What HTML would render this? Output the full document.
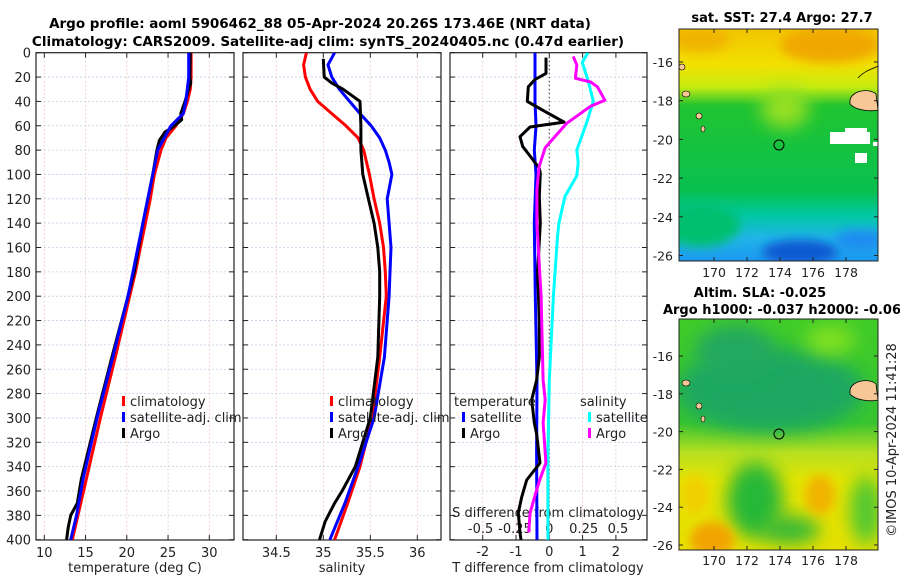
<!DOCTYPE html>
<html><head><meta charset="utf-8"><style>
html,body{margin:0;padding:0;background:#fff;}
svg{display:block;font-family:"DejaVu Sans","Liberation Sans",sans-serif;}
</style></head><body>
<svg id="chart" width="900" height="580" viewBox="0 0 900 580">
<defs>
<filter id="bl" x="-50%" y="-50%" width="200%" height="200%"><feGaussianBlur stdDeviation="9"/></filter>
<filter id="bl2" x="-50%" y="-50%" width="200%" height="200%"><feGaussianBlur stdDeviation="5"/></filter>
<clipPath id="c1"><rect x="679" y="29" width="199" height="232"/></clipPath>
<clipPath id="c2"><rect x="679" y="319" width="199" height="231"/></clipPath>
<clipPath id="cp1"><rect x="36" y="52.7" width="198" height="487.3"/></clipPath>
<clipPath id="cp2"><rect x="243" y="52.7" width="198" height="487.3"/></clipPath>
<clipPath id="cp3"><rect x="450" y="52.7" width="197" height="487.3"/></clipPath>
<linearGradient id="g1" x1="0" y1="0" x2="0" y2="1">
<stop offset="0" stop-color="#f2c400"/><stop offset="0.15" stop-color="#f2e000"/><stop offset="0.25" stop-color="#c8ec10"/>
<stop offset="0.33" stop-color="#20c430"/><stop offset="0.7" stop-color="#08c050"/><stop offset="0.8" stop-color="#00c8a0"/>
<stop offset="0.9" stop-color="#20b4e8"/><stop offset="1" stop-color="#1c98f0"/></linearGradient>
<linearGradient id="g2" x1="0" y1="0" x2="0" y2="1">
<stop offset="0" stop-color="#40cc28"/><stop offset="0.45" stop-color="#38c430"/><stop offset="0.58" stop-color="#b8e020"/>
<stop offset="0.7" stop-color="#e4e400"/><stop offset="1" stop-color="#e8e000"/></linearGradient>
</defs>

<g id="titles" font-weight="bold" font-size="13.5" text-anchor="middle">
<text x="320" y="28">Argo profile: aoml 5906462_88 05-Apr-2024 20.26S 173.46E (NRT data)</text>
<text x="328" y="46">Climatology: CARS2009. Satellite-adj clim: synTS_20240405.nc (0.47d earlier)</text>
</g>

<g id="panels"></g>

<!-- maps -->
<g>
<g clip-path="url(#c1)">
<rect x="679" y="29" width="199" height="232" fill="url(#g1)"/>
<ellipse cx="830" cy="45" rx="50" ry="18" fill="#f0a800" filter="url(#bl2)"/>
<ellipse cx="700" cy="40" rx="30" ry="12" fill="#f0b400" filter="url(#bl2)"/>
<ellipse cx="785" cy="108" rx="24" ry="20" fill="#98e020" filter="url(#bl)"/>
<ellipse cx="700" cy="225" rx="40" ry="22" fill="#00c070" filter="url(#bl2)"/>
<ellipse cx="800" cy="252" rx="38" ry="12" fill="#1058d0" filter="url(#bl2)"/>
<ellipse cx="860" cy="240" rx="25" ry="10" fill="#1a8cf0" filter="url(#bl2)"/>
<rect x="830" y="132" width="40" height="12" fill="#fff"/><rect x="845" y="128" width="22" height="8" fill="#fff"/>
<rect x="855" y="153" width="12" height="10" fill="#fff"/><rect x="873" y="142" width="5" height="4" fill="#fff"/>
<path d="M850,100 C852,90 870,88 876,94 L878,110 C870,112 855,110 850,104 Z" fill="#f7c896" stroke="#000" stroke-width="0.8"/>
<path d="M858,78 C865,70 875,68 878,66" fill="none" stroke="#000" stroke-width="0.8"/>
<ellipse cx="686" cy="94" rx="4" ry="3" fill="#f7c896" stroke="#000" stroke-width="0.6"/>
<ellipse cx="699" cy="116" rx="3" ry="3" fill="#f7c896" stroke="#000" stroke-width="0.6"/>
<ellipse cx="703" cy="129" rx="2" ry="3" fill="#f7c896" stroke="#000" stroke-width="0.6"/>
<ellipse cx="682" cy="67" rx="3" ry="3" fill="#f7c896" stroke="#000" stroke-width="0.6"/>
<circle cx="779" cy="145" r="5" fill="none" stroke="#000" stroke-width="1"/>
</g>
<rect x="679" y="29" width="199" height="232" fill="none" stroke="#222" stroke-width="1"/>
</g>
<g>
<g clip-path="url(#c2)">
<rect x="679" y="319" width="199" height="231" fill="url(#g2)"/>
<ellipse cx="770" cy="390" rx="95" ry="42" fill="#1aa860" filter="url(#bl)"/>
<ellipse cx="735" cy="350" rx="40" ry="25" fill="#20a860" filter="url(#bl)"/>
<ellipse cx="830" cy="340" rx="25" ry="15" fill="#80e020" filter="url(#bl)"/>
<ellipse cx="755" cy="500" rx="28" ry="38" fill="#28b838" filter="url(#bl)"/>
<ellipse cx="790" cy="530" rx="30" ry="14" fill="#30b838" filter="url(#bl)"/>
<ellipse cx="866" cy="510" rx="16" ry="35" fill="#50c830" filter="url(#bl)"/>
<ellipse cx="712" cy="540" rx="22" ry="18" fill="#f2a400" filter="url(#bl2)"/>
<ellipse cx="820" cy="495" rx="15" ry="20" fill="#f0b400" filter="url(#bl2)"/>
<ellipse cx="695" cy="495" rx="14" ry="20" fill="#f0d000" filter="url(#bl2)"/>
<path d="M850,390 C852,380 870,378 876,384 L878,400 C870,402 855,400 850,394 Z" fill="#f7c896" stroke="#000" stroke-width="0.8"/>
<ellipse cx="686" cy="383" rx="4" ry="3" fill="#f7c896" stroke="#000" stroke-width="0.6"/>
<ellipse cx="699" cy="406" rx="3" ry="3" fill="#f7c896" stroke="#000" stroke-width="0.6"/>
<ellipse cx="703" cy="419" rx="2" ry="3" fill="#f7c896" stroke="#000" stroke-width="0.6"/>
<circle cx="779" cy="434" r="5" fill="none" stroke="#000" stroke-width="1"/>
</g>
<rect x="679" y="319" width="199" height="231" fill="none" stroke="#222" stroke-width="1"/>
</g>
<g font-weight="bold" font-size="13" text-anchor="middle">
<text x="782" y="22">sat. SST: 27.4 Argo: 27.7</text>
<text x="760" y="297">Altim. SLA: -0.025</text>
<text x="782" y="314">Argo h1000: -0.037 h2000: -0.06</text>
</g>
<g id="maplabels" font-size="12.5" fill="#222"></g>
<text transform="translate(896,440) rotate(-90)" font-size="13" text-anchor="middle" fill="#222">©IMOS 10-Apr-2024 11:41:28</text>
</svg>
<script>
// depth levels and profile values
const depthTicks = [0,20,40,60,80,100,120,140,160,180,200,220,240,260,280,300,320,340,360,380,400];
const tempTicks = [10,15,20,25,30];
const salTicks = [34.5,35,35.5,36];
const tdiffTicks = [-2,-1,0,1,2];
const sdiffTicks = [-0.5,-0.25,0,0.25,0.5];
const sdiffLabels = ['-0.5','-0.25','0','0.25','0.5'];

const tClimDepth = [0,20,30,40,50,60,70,80,100,120,140,160,180,200,250,300,350,400];
const tClim = [27.8,27.8,27.7,27.35,26.85,25.95,24.75,24.15,23.35,22.85,22.25,21.65,21.05,20.35,18.6,16.8,15.1,13.4];
const tSatDepth = [0,20,40,50,60,70,80,100,120,140,160,180,200,250,300,350,380,400];
const tSat = [27.5,27.5,27.15,26.85,25.35,24.55,23.75,23.15,22.55,21.95,21.35,20.75,20.15,18.3,16.4,14.7,13.9,13.2];
const tArgoDepth = [0,20,25,30,40,50,55,58,62,65,72,80,100,140,180,200,250,300,350,370,380,390,400];
const tArgo = [27.7,27.65,27.75,27.5,27.05,26.55,26.65,26.15,25.4,24.65,23.95,23.65,23.15,21.95,20.9,20.15,18.2,16.3,14.5,14.0,13.2,12.9,12.7];

const sClimDepth = [0,10,20,30,40,50,60,70,75,80,100,120,140,160,180,200,250,300,340,370,400];
const sClim = [34.82,34.79,34.81,34.86,34.94,35.09,35.24,35.37,35.40,35.43,35.49,35.54,35.60,35.64,35.66,35.67,35.60,35.52,35.39,35.26,35.12];
const sSatDepth = [0,10,20,30,40,50,60,70,80,90,100,120,140,160,180,200,250,300,340,370,400];
const sSat = [35.12,35.05,35.09,35.17,35.28,35.39,35.51,35.60,35.66,35.70,35.73,35.68,35.70,35.72,35.71,35.70,35.65,35.54,35.37,35.23,35.07];
const sArgoDepth = [5,20,25,30,40,60,80,100,120,140,160,180,200,250,300,340,360,370,385,400];
const sArgo = [35.0,35.01,35.09,35.21,35.39,35.40,35.40,35.42,35.48,35.54,35.58,35.60,35.60,35.58,35.50,35.34,35.20,35.12,35.02,34.96];

const dtSatDepth = [0,40,60,80,100,140,200,270,330,400];
const dtSat = [-0.43,-0.43,-0.4,-0.45,-0.4,-0.45,-0.42,-0.37,-0.38,-0.37];
const dtArgoDepth = [4,17,22,28,40,46,57,61,69,77,84,95,99,118,140,180,220,250,269,285,304,313,337,351,365,378,394,400];
const dtArgo = [-0.1,-0.1,-0.43,-0.63,-0.66,-0.28,0.44,-0.58,-0.88,-0.8,-0.6,-0.3,-0.27,-0.3,-0.27,-0.35,-0.3,-0.3,-0.38,-0.53,-0.45,-0.38,-0.28,-0.68,-0.83,-0.93,-0.88,-0.85];
const dsSatDepth = [0,8,22,40,58,80,90,101,118,140,151,200,269,330,400];
const dsSat = [0.28,0.24,0.28,0.32,0.27,0.2,0.21,0.2,0.114,0.07,0.06,0.03,0.0,-0.01,-0.01];
const dsArgoDepth = [3,10,21,24,28,39,44,58,69,78,94,113,140,200,269,285,304,320,337,351,362,378,394];
const dsArgo = [0.175,0.2,0.19,0.3,0.35,0.405,0.3,0.127,0.04,-0.03,-0.075,-0.09,-0.09,-0.06,-0.045,-0.03,-0.045,-0.035,-0.025,-0.07,-0.1,-0.14,-0.15];

const latTicks = [-16,-18,-20,-22,-24,-26];
const lonTicks = [170,172,174,176,178];

const NS='http://www.w3.org/2000/svg';
const svg=document.getElementById('chart');
const panels=document.getElementById('panels');
const yD = d => 52.7 + d*1.2175;
const xT = t => 44.3 + (t-10)*8.25;
const xS = s => 276.3 + (s-34.5)*94;
const xDT = v => 549.3 + v*33.3;
const xDS = v => 549.3 + v*137.4;
function mk(tag, attrs, parent){const e=document.createElementNS(NS,tag);for(const k in attrs)e.setAttribute(k,attrs[k]);(parent||panels).appendChild(e);return e;}

function panel(x0,x1,xticks,xf,name){
  const g=mk('g',{});
  
  
  depthTicks.forEach(d=>{ if(d>0&&d<400) mk('line',{x1:x0,x2:x1,y1:yD(d),y2:yD(d),stroke:'#c4cdea','stroke-width':0.8,'stroke-dasharray':'2,2'},g);});
  xticks.forEach(v=>{const x=xf(v); mk('line',{x1:x,x2:x,y1:52.7,y2:540,stroke:'#ecc8c0','stroke-width':0.8,'stroke-dasharray':'2,2'},g);});
  mk('rect',{x:x0,y:52.7,width:x1-x0,height:487.3,fill:'none',stroke:'#222','stroke-width':1.2},g);
  depthTicks.forEach(d=>{mk('line',{x1:x0,x2:x0+5,y1:yD(d),y2:yD(d),stroke:'#222','stroke-width':1},g);mk('line',{x1:x1-5,x2:x1,y1:yD(d),y2:yD(d),stroke:'#222','stroke-width':1},g);});
  xticks.forEach(v=>{const x=xf(v);mk('line',{x1:x,x2:x,y1:52.7,y2:57.7,stroke:'#222'},g);mk('line',{x1:x,x2:x,y1:535,y2:540,stroke:'#222'},g);});
  return g;
}
function line(depths,vals,xf,color,clip,name,w){
  const pts=depths.map((d,i)=>xf(vals[i]).toFixed(1)+','+yD(d).toFixed(1)).join(' ');
  const p=mk('polyline',{points:pts,fill:'none',stroke:color,'stroke-width':w||3,'stroke-linejoin':'round','clip-path':'url(#'+clip+')'});
  
  
}
function txt(x,y,s,attrs,name){const t=mk('text',Object.assign({x:x,y:y,'font-size':13,fill:'#222'},attrs||{}));t.textContent=s;return t;}

panel(36,234,tempTicks,xT,'temperature-panel');
panel(243,441,salTicks,xS,'salinity-panel');
panel(450,647,tdiffTicks,xDT,'difference-panel');
mk('line',{x1:549.3,x2:549.3,y1:52.7,y2:540,stroke:'#555','stroke-width':1.2,'stroke-dasharray':'1.5,2.5'});

depthTicks.forEach(d=>txt(31,yD(d)+5,String(d),{'text-anchor':'end'},'depth-tick-label'));
tempTicks.forEach(v=>txt(xT(v),557,String(v),{'text-anchor':'middle'},'temperature-tick-label'));
salTicks.forEach(v=>txt(xS(v),557,String(v),{'text-anchor':'middle'},'salinity-tick-label'));
tdiffTicks.forEach(v=>txt(xDT(v),556,String(v),{'text-anchor':'middle'},'tdiff-tick-label'));
sdiffTicks.forEach((v,i)=>txt(xDS(v),533,sdiffLabels[i],{'text-anchor':'middle'},'sdiff-tick-label'));
txt(135,572,'temperature (deg C)',{'text-anchor':'middle'},'temperature-axis-title');
txt(342,572,'salinity',{'text-anchor':'middle'},'salinity-axis-title');
txt(548,572,'T difference from climatology',{'text-anchor':'middle'},'tdiff-axis-title');
txt(548,517,'S difference from climatology',{'text-anchor':'middle'},'sdiff-axis-title');

line(tClimDepth,tClim,xT,'#ff0000','cp1','temp-climatology-line');
line(tArgoDepth,tArgo,xT,'#000','cp1','temp-argo-line');
line(tSatDepth,tSat,xT,'#0000ff','cp1','temp-satellite-line');
line(sClimDepth,sClim,xS,'#ff0000','cp2','sal-climatology-line');
line(sSatDepth,sSat,xS,'#0000ff','cp2','sal-satellite-line');
line(sArgoDepth,sArgo,xS,'#000','cp2','sal-argo-line');
line(dsSatDepth,dsSat,xDS,'#00ffff','cp3','sdiff-satellite-line');
line(dtSatDepth,dtSat,xDT,'#0000ff','cp3','tdiff-satellite-line');
line(dtArgoDepth,dtArgo,xDT,'#000','cp3','tdiff-argo-line');
line(dsArgoDepth,dsArgo,xDS,'#ff00ff','cp3','sdiff-argo-line');

function legend(x,y,items,name){
  items.forEach((it,i)=>{
    const yy=y+i*16;
    if(it[0]){const r=mk('rect',{x:x,y:yy-10,width:3,height:10,fill:it[0]});}
    txt(it[0]?x+8:x-8,yy,it[1],{},name+'-entry');
  });
}
legend(122,406,[['#ff0000','climatology'],['#0000ff','satellite-adj. clim'],['#000','Argo']],'temp-legend');
legend(330,406,[['#ff0000','climatology'],['#0000ff','satellite-adj. clim'],['#000','Argo']],'sal-legend');
legend(462,406,[[null,'temperature'],['#0000ff','satellite'],['#000','Argo']],'tdiff-legend');
legend(588,406,[[null,'salinity'],['#00ffff','satellite'],['#ff00ff','Argo']],'sdiff-legend');

// map labels
const ml=document.getElementById('maplabels');
const lonX = lon => 714 + (lon-170)*16.5;
const lat1 = la => 62 + (-16-la)*19.35;
const lat2 = la => 356 + (-16-la)*18.9;
[[lat1,29,261,277],[lat2,319,550,565]].forEach(([lf,top,bot,ly])=>{
  latTicks.forEach(la=>{
    const y=lf(la);
    const t=mk('text',{x:673,y:y+5,'text-anchor':'end','font-size':12.5,fill:'#222'},ml);t.textContent=String(la);
    
    
    mk('line',{x1:679,x2:683,y1:y,y2:y,stroke:'#222'},ml);mk('line',{x1:874,x2:878,y1:y,y2:y,stroke:'#222'},ml);
  });
  lonTicks.forEach(lo=>{
    const x=lonX(lo);
    const t=mk('text',{x:x,y:ly,'text-anchor':'middle','font-size':12.5,fill:'#222'},ml);t.textContent=String(lo);
    
    
    mk('line',{x1:x,x2:x,y1:bot-4,y2:bot,stroke:'#222'},ml);mk('line',{x1:x,x2:x,y1:top,y2:top+4,stroke:'#222'},ml);
  });
});
</script>
</body></html>
